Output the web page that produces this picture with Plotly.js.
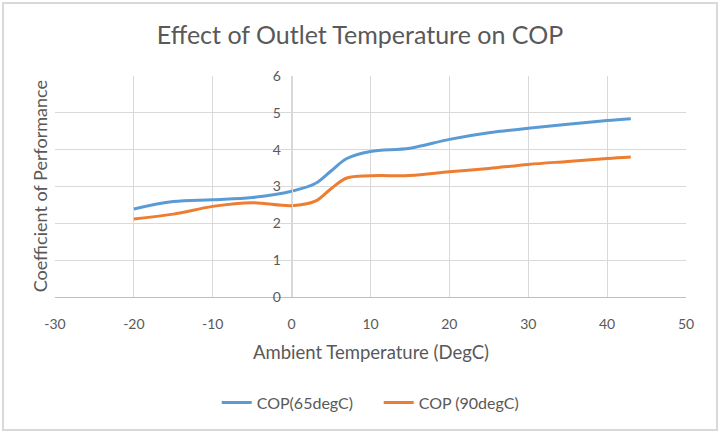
<!DOCTYPE html>
<html>
<head>
<meta charset="utf-8">
<script src="https://cdn.plot.ly/plotly-3.0.1.min.js"></script>
<style>
  html, body { margin: 0; padding: 0; background: #ffffff; }
  #wrap { position: relative; width: 720px; height: 433px; }
  #chart { width: 720px; height: 433px; }
  #frame { position: absolute; left: 2px; top: 2px; width: 712px; height: 425px;
           border: 2px solid #d9d9d9; pointer-events: none; }
</style>
</head>
<body>
<div id="wrap">
  <div id="chart"></div>
  <div id="frame"></div>
</div>
<script>
// Data
const ambientTemp = [-20, -15, -10, -5, 0, 3, 5, 7, 10, 15, 20, 25, 30, 35, 40, 43];
const cop65 = [2.39, 2.59, 2.64, 2.70, 2.87, 3.08, 3.42, 3.76, 3.95, 4.04, 4.28, 4.46, 4.58, 4.69, 4.79, 4.84];
const cop90 = [2.12, 2.25, 2.46, 2.56, 2.48, 2.60, 2.94, 3.23, 3.29, 3.30, 3.40, 3.49, 3.60, 3.68, 3.76, 3.80];
const seriesNames = ["COP(65degC)", "COP (90degC)"];
const xTicks = [-30, -20, -10, 0, 10, 20, 30, 40, 50];
const yTicks = [0, 1, 2, 3, 4, 5, 6];

const fontFam = "Lato, 'Open Sans', sans-serif";
const txtColor = "#595959";

const traces = [
  {x: ambientTemp, y: cop65, name: seriesNames[0], type: "scatter", mode: "lines",
   line: {color: "#5b9bd5", width: 3, shape: "spline", smoothing: 1}},
  {x: ambientTemp, y: cop90, name: seriesNames[1], type: "scatter", mode: "lines",
   line: {color: "#ed7d31", width: 3, shape: "spline", smoothing: 1}}
];

const layout = {
  width: 720, height: 433,
  margin: {l: 55, r: 34, t: 76, b: 136, autoexpand: false},
  paper_bgcolor: "#ffffff", plot_bgcolor: "#ffffff",
  font: {family: fontFam, color: txtColor, size: 14},
  title: {text: "Effect of Outlet Temperature on COP", x: 0.5, xanchor: "center",
          y: 1, yref: "paper", yanchor: "bottom", pad: {b: 32},
          font: {family: fontFam, size: 25, color: txtColor}},
  xaxis: {range: [-30, 50], tickvals: xTicks, ticktext: xTicks.map(String),
          showgrid: true, gridcolor: "#d9d9d9", gridwidth: 1,
          zeroline: false, showline: true, linecolor: "#bfbfbf", linewidth: 1,
          ticks: "", ticklabelstandoff: 14, tickfont: {size: 14, color: txtColor},
          fixedrange: true, automargin: false},
  yaxis: {range: [0, 6], tickvals: yTicks, ticktext: yTicks.map(String),
          anchor: "free", position: 0.375,
          showgrid: true, gridcolor: "#d9d9d9", gridwidth: 1,
          zeroline: false, showline: true, linecolor: "#d9d9d9", linewidth: 1,
          ticks: "", ticklabelstandoff: 8, tickfont: {size: 14, color: txtColor},
          fixedrange: true, automargin: false},
  showlegend: true,
  legend: {orientation: "h", x: 0.526, xref: "container", xanchor: "center",
           y: 0.07, yref: "container", yanchor: "middle",
           font: {size: 16, color: txtColor}, entrywidth: 117, itemwidth: 30},
  annotations: [
    {text: "Ambient Temperature (DegC)", xref: "paper", yref: "paper", x: 0.5, y: -0.247,
     xanchor: "center", yanchor: "middle", showarrow: false,
     font: {size: 18.5, color: txtColor}},
    {text: "Coefficient of Performance", xref: "paper", yref: "paper", x: -0.024, y: 0.5,
     xanchor: "center", yanchor: "middle", textangle: -90, showarrow: false,
     font: {size: 18, color: txtColor}}
  ]
};

Plotly.newPlot("chart", traces, layout, {displayModeBar: false, staticPlot: true});
</script>
</body>
</html>
